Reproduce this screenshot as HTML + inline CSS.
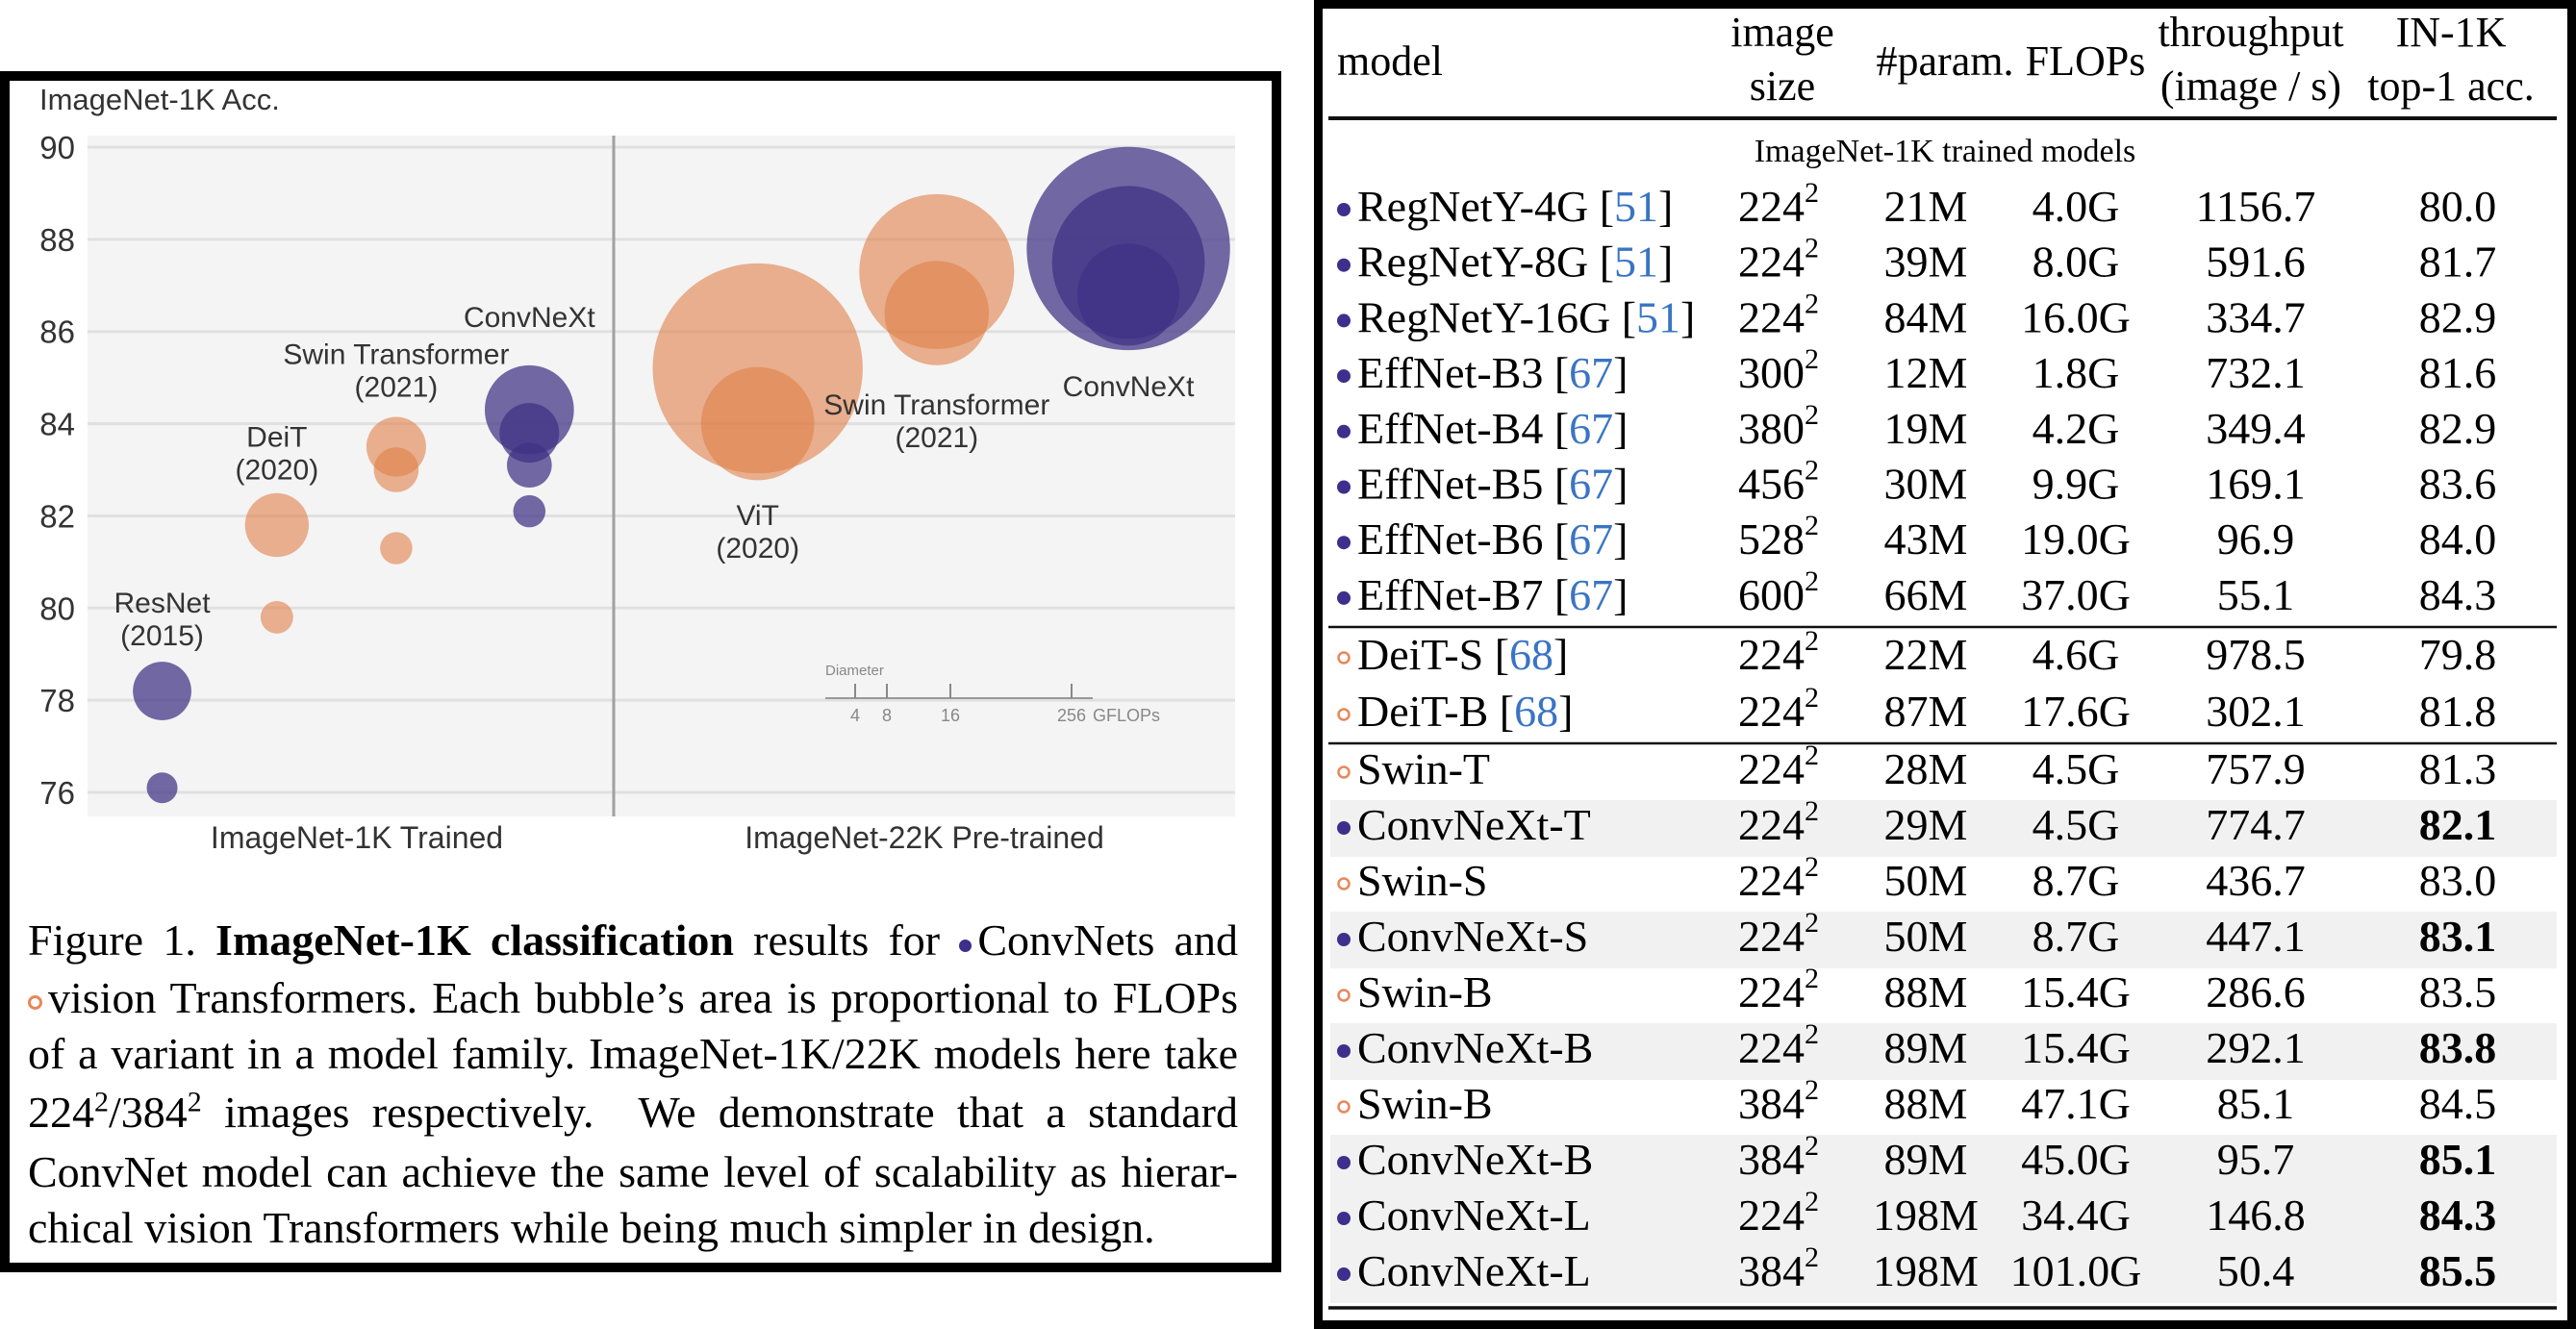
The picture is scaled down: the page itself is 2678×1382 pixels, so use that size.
<!DOCTYPE html>
<html>
<head>
<meta charset="utf-8">
<style>
html,body{margin:0;padding:0;background:#fff;}
body{width:2678px;height:1382px;position:relative;overflow:hidden;}
#leftbox{position:absolute;left:0;top:74px;width:1312px;height:1229px;border:10px solid #000;background:#fff;}
#tablebox{position:absolute;left:1366px;top:0;width:1294px;height:1364px;border:9px solid #000;border-top-width:9px;background:#fff;}
svg{position:absolute;left:0;top:0;}
.cap{position:absolute;left:29px;width:1258px;font-family:"Liberation Serif",serif;font-size:46px;line-height:60px;color:#000;white-space:nowrap;}
.just{text-align:justify;text-align-last:justify;white-space:normal;}
.dot{display:inline-block;width:13px;height:13px;border-radius:50%;background:#3d2f8c;vertical-align:3px;margin-right:6px;}
.ring{display:inline-block;width:9px;height:9px;border-radius:50%;border:3px solid #e8875a;vertical-align:3px;margin-right:6px;}
sup{font-size:30px;line-height:0;}
</style>
</head>
<body>
<div id="leftbox"></div>
<div id="tablebox"></div>

<svg id="chart" width="2678" height="1382"></svg>

<div class="cap just" style="top:948px;">Figure 1. <b>ImageNet-1K classification</b> results for <span class="dot"></span>ConvNets and</div>
<div class="cap just" style="top:1008px;"><span class="ring"></span>vision Transformers. Each bubble’s area is proportional to FLOPs</div>
<div class="cap just" style="top:1066px;">of a variant in a model family. ImageNet-1K/22K models here take</div>
<div class="cap just" style="top:1127px;">224<sup>2</sup>/384<sup>2</sup> images respectively.&nbsp; We demonstrate that a standard</div>
<div class="cap just" style="top:1189px;">ConvNet model can achieve the same level of scalability as hierar-</div>
<div class="cap" style="top:1247px;">chical vision Transformers while being much simpler in design.</div>

<script>
// ---------- chart data ----------
const yTicks = [76, 78, 80, 82, 84, 86, 88, 90];
const familyNames = ["ResNet", "DeiT", "Swin-1K", "ConvNeXt-1K", "ViT", "Swin-22K", "ConvNeXt-22K"];
const familyPos = [0.65, 1.65, 2.69, 3.85, 5.84, 7.4, 9.07];
const familyType = ["conv", "vit", "vit", "conv", "vit", "vit", "conv"];
const familyAcc = [[76.1, 78.2], [79.8, 81.8], [81.3, 83.0, 83.5], [82.1, 83.1, 83.8, 84.3], [84.0, 85.2], [86.4, 87.3], [86.8, 87.5, 87.8]];
const familyFlops = [[4.1, 14.8], [4.6, 17.6], [4.5, 8.7, 15.4], [4.5, 8.7, 15.4, 34.4], [55.5, 191], [47.1, 103.9], [45, 101, 179]];
const labelLines = [["ResNet", "(2015)"], ["DeiT", "(2020)"], ["Swin Transformer", "(2021)"], ["ConvNeXt"], ["ViT", "(2020)"], ["Swin Transformer", "(2021)"], ["ConvNeXt"]];
const labelAcc = [79.9, 83.5, 85.3, 86.1, 81.8, 84.2, 84.6];
const groupNames = ["ImageNet-1K Trained", "ImageNet-22K Pre-trained"];
const legendTicks = ["4", "8", "16", "256"];

const svg = document.getElementById('chart');
const NS = 'http://www.w3.org/2000/svg';
const plot = {x0: 91, x1: 1284, y0: 141, y1: 849};
function yScale(v) { return 153 + (90 - v) * 47.93; }
function xScale(p) { return 91 + p * 119.3; }
function rScale(f) { return 7.9 * Math.sqrt(f); }
function mk(tag, attrs, parent) {
  const e = document.createElementNS(NS, tag);
  for (const k in attrs) e.setAttribute(k, attrs[k]);
  (parent || svg).appendChild(e);
  return e;
}

let e = mk('rect', {x: plot.x0, y: plot.y0, width: plot.x1 - plot.x0, height: plot.y1 - plot.y0, fill: '#f4f4f4'});



yTicks.forEach(t => {
  const g = mk('line', {x1: plot.x0, x2: plot.x1, y1: yScale(t), y2: yScale(t), stroke: '#e0e0e0', 'stroke-width': 3});
  
  
  const l = mk('text', {x: 78, y: yScale(t) + 12, 'text-anchor': 'end', 'font-family': 'Liberation Sans, sans-serif', 'font-size': 33, fill: '#333'});
  l.textContent = t;
  
  
});

e = mk('line', {x1: 638, x2: 638, y1: plot.y0, y2: plot.y1, stroke: '#a0a0a0', 'stroke-width': 3});



e = mk('text', {x: 41, y: 114, 'font-family': 'Liberation Sans, sans-serif', 'font-size': 31, fill: '#333'});
e.textContent = 'ImageNet-1K Acc.';



[[371, 0], [961, 1]].forEach(([cx, i]) => {
  const t = mk('text', {x: cx, y: 882, 'text-anchor': 'middle', 'font-family': 'Liberation Sans, sans-serif', 'font-size': 32, fill: '#333'});
  t.textContent = groupNames[i];
  
  
});

// bubbles
familyNames.forEach((fam, i) => {
  const fill = familyType[i] === 'conv' ? 'rgba(63,49,131,0.72)' : 'rgba(224,126,71,0.6)';
  const idx = familyAcc[i].map((_, j) => j).sort((a, b) => familyFlops[i][b] - familyFlops[i][a]);
  idx.forEach(j => {
    const c = mk('circle', {cx: xScale(familyPos[i]), cy: yScale(familyAcc[i][j]), r: rScale(familyFlops[i][j]), fill: fill});
    
    
  });
  labelLines[i].forEach((line, k) => {
    const t = mk('text', {x: xScale(familyPos[i]), y: yScale(labelAcc[i]) + k * 34, 'text-anchor': 'middle', 'font-family': 'Liberation Sans, sans-serif', 'font-size': 30, fill: '#333'});
    t.textContent = line;
    
    
  });
});

// diameter legend
e = mk('text', {x: 858, y: 702, 'font-family': 'Liberation Sans, sans-serif', 'font-size': 15, fill: '#888'});
e.textContent = 'Diameter';


e = mk('line', {x1: 858, x2: 1136, y1: 726, y2: 726, stroke: '#999', 'stroke-width': 2});


const legendX = [889, 922, 988, 1114];
legendTicks.forEach((lab, i) => {
  const tk = mk('line', {x1: legendX[i], x2: legendX[i], y1: 711, y2: 726, stroke: '#888', 'stroke-width': 2});
  
  
  const t = mk('text', {x: legendX[i], y: 750, 'text-anchor': 'middle', 'font-family': 'Liberation Sans, sans-serif', 'font-size': 18, fill: '#888'});
  t.textContent = lab;
  
  
});
e = mk('text', {x: 1136, y: 750, 'font-family': 'Liberation Sans, sans-serif', 'font-size': 18, fill: '#888'});
e.textContent = 'GFLOPs';



// ---------- table data ----------
const tKind = ['c','c','c','c','c','c','c','c','o','o','o','c','o','c','o','c','o','c','c','c'];
const tName = ['RegNetY-4G','RegNetY-8G','RegNetY-16G','EffNet-B3','EffNet-B4','EffNet-B5','EffNet-B6','EffNet-B7','DeiT-S','DeiT-B','Swin-T','ConvNeXt-T','Swin-S','ConvNeXt-S','Swin-B','ConvNeXt-B','Swin-B','ConvNeXt-B','ConvNeXt-L','ConvNeXt-L'];
const tCite = ['51','51','51','67','67','67','67','67','68','68','','','','','','','','','',''];
const tSize = ['224','224','224','300','380','456','528','600','224','224','224','224','224','224','224','224','384','384','224','384'];
const tParam = ['21M','39M','84M','12M','19M','30M','43M','66M','22M','87M','28M','29M','50M','50M','88M','89M','88M','89M','198M','198M'];
const tFlops = ['4.0G','8.0G','16.0G','1.8G','4.2G','9.9G','19.0G','37.0G','4.6G','17.6G','4.5G','4.5G','8.7G','8.7G','15.4G','15.4G','47.1G','45.0G','34.4G','101.0G'];
const tThru = ['1156.7','591.6','334.7','732.1','349.4','169.1','96.9','55.1','978.5','302.1','757.9','774.7','436.7','447.1','286.6','292.1','85.1','95.7','146.8','50.4'];
const tAcc = ['80.0','81.7','82.9','81.6','82.9','83.6','84.0','84.3','79.8','81.8','81.3','82.1','83.0','83.1','83.5','83.8','84.5','85.1','84.3','85.5'];

const ser = 'Liberation Serif, serif';
function rowY(i) {
  if (i < 8) return 230 + i * 57.7;
  if (i < 10) return 696 + (i - 8) * 59;
  return 815 + (i - 10) * 58;
}
tName.forEach((n, i) => {
  if (i >= 10 && tKind[i] === 'c') {
    const r = mk('rect', {x: 1383, y: rowY(i) - 41, width: 1275, height: 59, fill: '#f1f1f1'});
    
    
  }
});
function txt(x, y, s, anchor, size, weight, name) {
  const t = mk('text', {x: x, y: y, 'text-anchor': anchor, 'font-family': ser, 'font-size': size, 'font-weight': weight || 'normal', fill: '#000'});
  t.textContent = s;
  
  
  return t;
}
// header
txt(1390, 78, 'model', 'start', 44, 0, 'header-model');
txt(1853, 48, 'image', 'middle', 44, 0, 'header-image');
txt(1853, 104, 'size', 'middle', 44, 0, 'header-size');
txt(2022, 78, '#param.', 'middle', 44, 0, 'header-param');
txt(2168, 78, 'FLOPs', 'middle', 44, 0, 'header-flops');
txt(2340, 48, 'throughput', 'middle', 44, 0, 'header-throughput');
txt(2340, 104, '(image / s)', 'middle', 44, 0, 'header-throughput-unit');
txt(2548, 48, 'IN-1K', 'middle', 44, 0, 'header-in1k');
txt(2548, 104, 'top-1 acc.', 'middle', 44, 0, 'header-top1');
txt(2022, 168, 'ImageNet-1K trained models', 'middle', 34, 0, 'subheader');

[[123, 4], [652, 2.5], [773, 2.5], [1360, 3.5]].forEach(([y, w]) => {
  const l = mk('line', {x1: 1381, x2: 2658, y1: y, y2: y, stroke: '#111', 'stroke-width': w});
  
  
});

tName.forEach((n, i) => {
  const y = rowY(i);
  let m;
  if (tKind[i] === 'c') {
    m = mk('circle', {cx: 1397, cy: y - 12, r: 7, fill: '#3d2f8c'});
  } else {
    m = mk('circle', {cx: 1397, cy: y - 12, r: 5.5, fill: 'none', stroke: '#e8875a', 'stroke-width': 2.5});
  }
  
  
  const t = txt(1411, y, n + ' ', 'start', 46, 0, 'row-model-name');
  if (tCite[i]) {
    const a = document.createElementNS(NS, 'tspan'); a.textContent = '['; t.appendChild(a);
    const b = document.createElementNS(NS, 'tspan'); b.textContent = tCite[i]; b.setAttribute('fill', '#3a74c4'); t.appendChild(b);
    const c = document.createElementNS(NS, 'tspan'); c.textContent = ']'; t.appendChild(c);
  }
  const s = txt(1807, y, tSize[i], 'start', 46, 0, 'row-image-size');
  const sp = document.createElementNS(NS, 'tspan');
  sp.textContent = '2'; sp.setAttribute('font-size', '30'); sp.setAttribute('dy', '-20');
  s.appendChild(sp);
  txt(2002, y, tParam[i], 'middle', 46, 0, 'row-params');
  txt(2158, y, tFlops[i], 'middle', 46, 0, 'row-flops');
  txt(2345, y, tThru[i], 'middle', 46, 0, 'row-throughput');
  txt(2555, y, tAcc[i], 'middle', 46, (i >= 10 && tKind[i] === 'c') ? 'bold' : 'normal', 'row-accuracy');
});
</script>
</body>
</html>
